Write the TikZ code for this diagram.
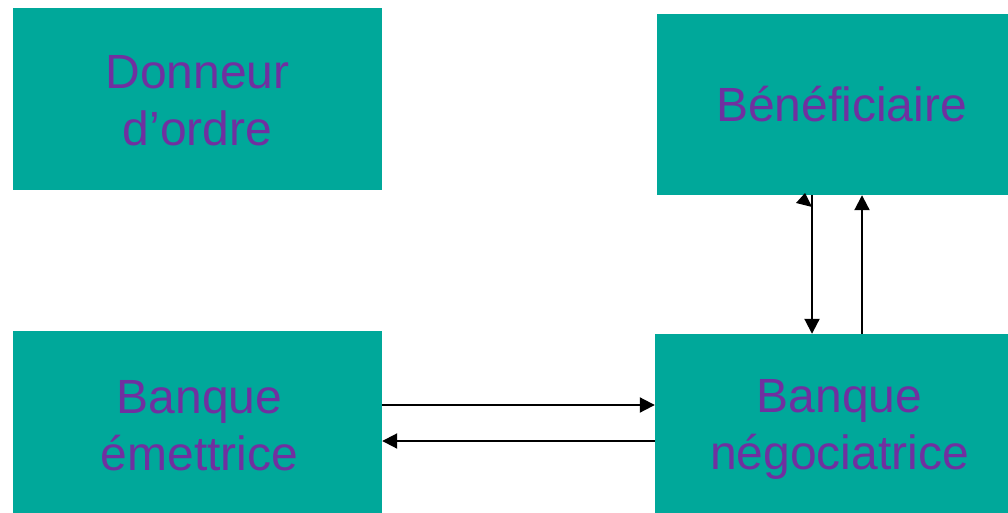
\documentclass[tikz,border=0pt]{standalone}
\usepackage{fontspec}
\setmainfont{Liberation Sans}
\usetikzlibrary{arrows.meta}
\definecolor{boxteal}{HTML}{00A89A}
\definecolor{labelpurple}{HTML}{7030A0}
\tikzset{
  party/.style={fill=boxteal, draw=none, inner sep=0pt},
  partytext/.style={text=labelpurple, align=center, inner sep=0pt,
    font=\fontsize{48}{57}\selectfont},
  flow/.style={line width=2pt, -{Triangle[length=15pt,width=15pt]}}
}
\begin{document}
\begin{tikzpicture}[x=1pt,y=-1pt]
  \useasboundingbox (0,0) rectangle (1008,513);
  % the four parties
  \node[party, minimum width=369pt, minimum height=182pt,
    label={[partytext, yshift=-2pt]center:{Donneur\\d’ordre}}] (don) at (197.5,99) {};
  \node[party, minimum width=351pt, minimum height=181pt,
    label={[partytext, xshift=9pt]center:{Bénéficiaire}}] (ben) at (832.5,104.5) {};
  \node[party, minimum width=369pt, minimum height=182pt,
    label={[partytext, xshift=2pt, yshift=-4pt]center:{Banque\\émettrice}}] (em) at (197.5,422) {};
  \node[party, minimum width=353pt, minimum height=179pt,
    label={[partytext, xshift=8pt, yshift=-6pt]center:{Banque\\négociatrice}}] (neg) at (831.5,423.5) {};
  % exchanges between the banks
  \draw[flow] (em.east |- 0,405) -- (neg.west |- 0,405);
  \draw[flow] (neg.west |- 0,441) -- (em.east |- 0,441);
  % exchanges with the beneficiary
  \draw[flow] (812,0 |- ben.south) -- (812,0 |- neg.north);
  \draw[flow] (862,0 |- neg.north) -- (862,0 |- ben.south);
  % stray tilted head at the top of the descending line
  \fill (805,193) -- (796,203) -- (812,207) -- cycle;
\end{tikzpicture}
\end{document}
